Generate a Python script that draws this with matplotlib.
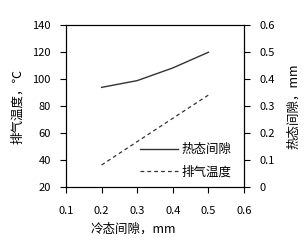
import numpy as np
import matplotlib
matplotlib.use('Agg')
import matplotlib.pyplot as plt

plt.rcParams['font.family'] = ['Noto Sans CJK SC', 'DejaVu Sans']

cold_gap = [0.2, 0.3, 0.4, 0.5]
hot_gap = [0.369, 0.394, 0.441, 0.499]      # mm, right axis
exhaust_temp = [36.3, 53.6, 70.9, 88.1]     # C, left axis

fig = plt.figure(figsize=(3.08, 2.47), dpi=100)
ax = fig.add_axes([66/308, 1-187/247, (244-66)/308, (187-25)/247])
ax2 = ax.twinx()

l2, = ax.plot(cold_gap, exhaust_temp, color='#333333', lw=0.9, ls=(0, (3, 2.5)))
l1, = ax2.plot(cold_gap, hot_gap, color='#333333', lw=1.0)

ax.set_xlim(0.1, 0.6)
ax.set_ylim(20, 140)
ax2.set_ylim(0, 0.6)
ax.set_xticks(np.arange(0.1, 0.61, 0.1))
ax.set_xticklabels(['0.1', '0.2', '0.3', '0.4', '0.5', '0.6'])
ax.set_yticks(range(20, 141, 20))
ax2.set_yticks([0, 0.1, 0.2, 0.3, 0.4, 0.5, 0.6])
ax2.set_yticklabels(['0', '0.1', '0.2', '0.3', '0.4', '0.5', '0.6'])

for a in (ax, ax2):
    a.tick_params(direction='out', length=4, width=0.8, labelsize=8, pad=7, colors='black')
    for s in a.spines.values():
        s.set_linewidth(0.8)
ax.tick_params(axis='x', pad=10)

ax.set_ylabel('排气温度，℃', fontsize=9, labelpad=6)
ax2.set_ylabel('热态间隙，mm', fontsize=9, labelpad=9)
fig.text(133/308, 1-229/247, '冷态间隙，mm', fontsize=9, ha='center', va='center')

ax.legend([l1, l2], ['热态间隙', '排气温度'], loc='lower right', frameon=False,
          bbox_to_anchor=(0.98, 0.0), fontsize=9, handlelength=3.0,
          handletextpad=0.3, labelspacing=0.75, borderaxespad=0.3)

fig.savefig('out.png', dpi=100)
